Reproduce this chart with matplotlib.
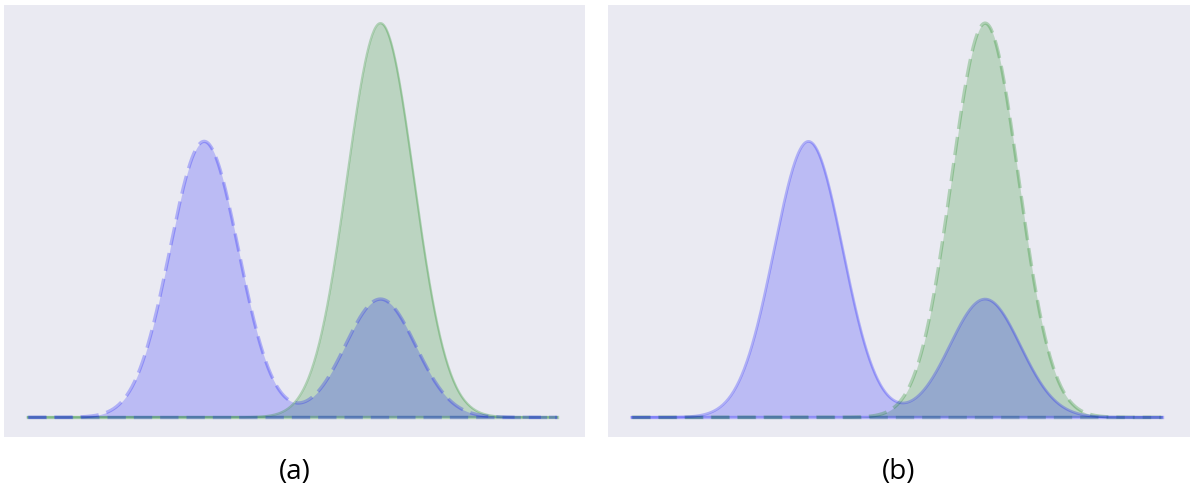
import numpy as np
import matplotlib
matplotlib.use('Agg')
import matplotlib.pyplot as plt

# Parametros de las curvas
mu_azul = [0.0, 2.0]
sigma_azul = [0.39, 0.40]
peso_azul = [0.70, 0.30]
mu_verde = 2.0
sigma_verde = 0.38
alto_verde = 1.0
x_min, x_max = -2.0, 4.0
etiquetas = ['(a)', '(b)']
estilos = [('--', '-'), ('-', '--')]  # (azul, verde) por panel

def gauss(x, mu, s):
    return np.exp(-0.5 * ((x - mu) / s) ** 2)

x = np.linspace(x_min, x_max, 600)
y_azul = sum(p * gauss(x, m, s) for p, m, s in zip(peso_azul, mu_azul, sigma_azul))
y_verde = alto_verde * gauss(x, mu_verde, sigma_verde)

fig = plt.figure(figsize=(11.9, 4.99), dpi=100)
fondo = '#EAEAF2'
posiciones = [[4/1190, 62/499, 581/1190, 432/499], [608/1190, 62/499, 582/1190, 432/499]]

for k in range(2):
    ax = fig.add_axes(posiciones[k])
    ax.set_facecolor(fondo)
    for s in ax.spines.values():
        s.set_visible(False)
    ax.set_xticks([])
    ax.set_yticks([])

    est_azul, est_verde = estilos[k]
    ax.fill_between(x, 0, y_verde, color='green', alpha=0.2, lw=0)
    ax.fill_between(x, 0, y_azul, color='blue', alpha=0.2, lw=0)

    # Curvas y linea base
    for y, color, est in [(y_verde, 'green', est_verde), (y_azul, 'blue', est_azul)]:
        if est == '--':
            ax.plot(x, y, color=color, alpha=0.25, lw=2.4, ls='--', dashes=(5.5, 2.4))
            ax.plot(x, np.zeros_like(x), color=color, alpha=0.25, lw=2.4, ls='--', dashes=(5.5, 2.4))
        else:
            lw = 1.6 if color == 'green' else 1.9
            ax.plot(x, y, color=color, alpha=0.25, lw=lw)
            ax.plot(x, np.zeros_like(x), color=color, alpha=0.25, lw=2.4)

    ax.set_xlim(x_min - 0.27, x_max + 0.32)
    ax.set_ylim(-0.05, 1.046)

    fig.text(posiciones[k][0] + posiciones[k][2] / 2,
             27/499, etiquetas[k], ha='center', va='center',
             fontsize=20, family=['Open Sans', 'DejaVu Sans'])

fig.savefig('out.png', dpi=100)
